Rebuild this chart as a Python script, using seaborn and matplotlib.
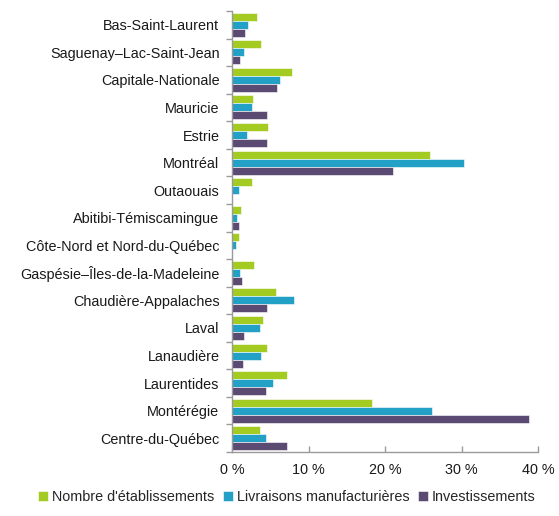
import numpy as np
import pandas as pd
import matplotlib
matplotlib.use("Agg")
import matplotlib.pyplot as plt
import seaborn as sns
from matplotlib.ticker import FuncFormatter, FixedLocator

regions = [
    "Bas-Saint-Laurent", "Saguenay–Lac-Saint-Jean", "Capitale-Nationale", "Mauricie",
    "Estrie", "Montréal", "Outaouais", "Abitibi-Témiscamingue",
    "Côte-Nord et Nord-du-Québec", "Gaspésie–Îles-de-la-Madeleine", "Chaudière-Appalaches",
    "Laval", "Lanaudière", "Laurentides", "Montérégie", "Centre-du-Québec",
]
series = ["Nombre d'établissements", "Livraisons manufacturières", "Investissements"]
etablissements = [3.3, 3.75, 7.9, 2.8, 4.75, 25.9, 2.65, 1.2, 0.9, 2.9, 5.8, 4.0, 4.55, 7.25, 18.3, 3.65]
livraisons = [2.1, 1.6, 6.3, 2.65, 1.9, 30.3, 0.9, 0.7, 0.5, 1.05, 8.1, 3.6, 3.75, 5.3, 26.1, 4.45]
investissements = [1.7, 1.05, 5.85, 4.55, 4.55, 21.1, 0.0, 0.95, 0.0, 1.35, 4.55, 1.55, 1.45, 4.45, 38.8, 7.25]
colors = ["#a3cb22", "#22a0c6", "#5b4a71"]

df = pd.DataFrame({
    "Région": regions * 3,
    "Série": np.repeat(series, len(regions)),
    "Part": etablissements + livraisons + investissements,
})

sns.set_theme(style="white")
plt.rcParams["font.family"] = ["Liberation Sans", "DejaVu Sans"]

fig = plt.figure(figsize=(5.59, 5.16), dpi=100)
ax = fig.add_axes([232 / 559, 1 - 452 / 516, (538 - 232) / 559, (452 - 11) / 516])

sns.barplot(data=df, y="Région", x="Part", hue="Série", order=regions, hue_order=series,
            palette=colors, saturation=1, orient="h", width=0.87, ax=ax, legend=True,
            edgecolor="white", linewidth=0.4)

ax.set_xlim(0, 40)
ax.set_ylim(len(regions) - 0.5, -0.5)
ax.set_xticks([0, 10, 20, 30, 40])
ax.xaxis.set_major_formatter(FuncFormatter(lambda v, p: f"{int(v)} %"))
ax.set_xlabel("")
ax.set_ylabel("")

for side in ["top", "right"]:
    ax.spines[side].set_visible(False)
for side in ["left", "bottom"]:
    ax.spines[side].set_color("#9a9a9a")
    ax.spines[side].set_linewidth(1.0)

fs = 10.4
ax.tick_params(axis="y", which="major", length=0, labelsize=fs, colors="#1a1a1a", pad=9)
ax.yaxis.set_minor_locator(FixedLocator(np.arange(-0.5, len(regions), 1.0)))
ax.tick_params(axis="y", which="minor", left=True, length=4, width=1, color="#9a9a9a", direction="out")
ax.tick_params(axis="x", which="major", bottom=True, length=4, width=1, color="#9a9a9a",
               direction="in", labelsize=fs, labelcolor="#1a1a1a", pad=8)

handles, labels = ax.get_legend_handles_labels()
ax.legend_.remove()
fig.legend(handles, labels, loc="center", bbox_to_anchor=(0.513, 1 - 497 / 516), ncol=3,
           frameon=False, fontsize=fs, handlelength=0.7, handleheight=0.7,
           handletextpad=0.25, columnspacing=0.6, borderaxespad=0)

fig.savefig("out.png", dpi=100)
